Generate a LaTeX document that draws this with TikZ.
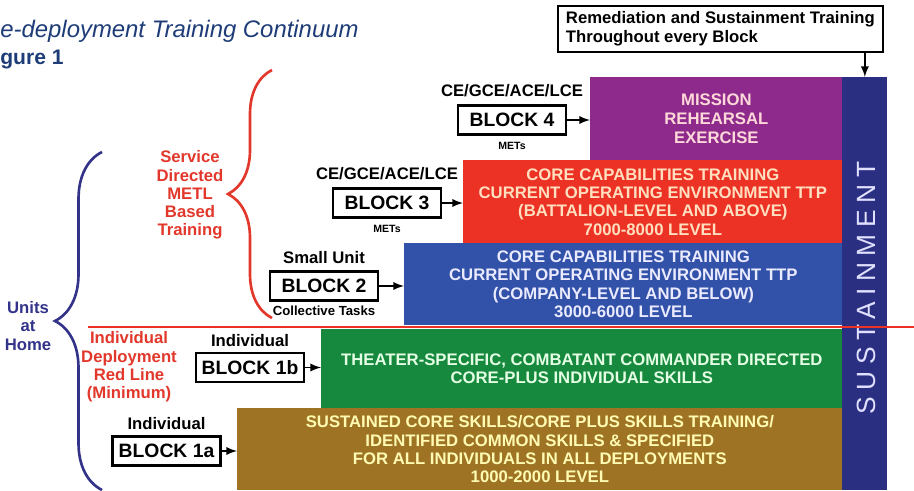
\documentclass[tikz,border=0pt]{standalone}
\usepackage{fontspec}
\setmainfont{Liberation Sans}
\newfontfamily\spacedsans[LetterSpace=25]{Liberation Sans}
\usetikzlibrary{positioning,decorations.pathreplacing}

\definecolor{titleblue}{HTML}{1D3C78}
\definecolor{metlred}{HTML}{E2372B}
\definecolor{homeblue}{HTML}{34338A}
\definecolor{mrepurple}{HTML}{8E2A8C}
\definecolor{corered}{HTML}{EC3224}
\definecolor{coreblue}{HTML}{3251A8}
\definecolor{theatergreen}{HTML}{16893E}
\definecolor{skillbrown}{HTML}{9E7424}
\definecolor{sustnavy}{HTML}{2B2F82}

\begin{document}
\begin{tikzpicture}[x = .2mm, y = -.2mm,
	band/.style = {anchor = north west, inner sep = 0, align = center, font = \bfseries\fontsize{9.5}{10.4}\selectfont},
	blockbox/.style = {draw, line width = 1.2pt, minimum width = 21.6mm, minimum height = 5.8mm, inner sep = 0, font = \bfseries\fontsize{11}{13}\selectfont},
	tag/.style = {inner sep = 0, font = \bfseries\fontsize{9.5}{11}\selectfont},
	smalltag/.style = {inner sep = 0, font = \bfseries\fontsize{6}{7}\selectfont},
	side/.style = {inner sep = 0, align = center, font = \bfseries\fontsize{9.5}{10.4}\selectfont},
	feed/.style = {-latex, line width = 1.1pt},
	curly/.style = {decorate, decoration = {brace, amplitude = #1}, line width = 1.5pt}]
	\useasboundingbox (0, 0) rectangle (914, 490);

	% title
	\node [anchor = base west, inner sep = 0, text = titleblue, font = \itshape\fontsize{13.6}{15}\selectfont] (title) at (0, 38) {e-deployment Training Continuum};
	\node [anchor = base west, inner sep = 0, text = titleblue, font = \bfseries\fontsize{12}{15}\selectfont] (fig) at (0, 65) {gure 1};

	% training blocks
	\node [band, fill = mrepurple, text = pink!60!white, minimum width = 50.4mm, minimum height = 16.6mm, font = \bfseries\fontsize{9.5}{10.8}\selectfont] (mre) at (590, 77) {MISSION\\REHEARSAL\\EXERCISE};
	\node [band, fill = corered, text = orange!25!white, minimum width = 75.8mm, minimum height = 16.6mm] (bat) at (463, 160) {CORE CAPABILITIES TRAINING\\CURRENT OPERATING ENVIRONMENT TTP\\(BATTALION-LEVEL AND ABOVE)\\7000-8000 LEVEL};
	\node [band, fill = coreblue, text = blue!8!white, minimum width = 87.6mm, minimum height = 16.4mm] (coy) at (404, 243) {CORE CAPABILITIES TRAINING\\CURRENT OPERATING ENVIRONMENT TTP\\(COMPANY-LEVEL AND BELOW)\\3000-6000 LEVEL};
	\node [band, fill = theatergreen, text = green!10!white, minimum width = 104.2mm, minimum height = 15.8mm] (thr) at (321, 329) {THEATER-SPECIFIC, COMBATANT COMMANDER DIRECTED\\CORE-PLUS INDIVIDUAL SKILLS};
	\node [band, fill = skillbrown, text = yellow!30!white, minimum width = 121mm, minimum height = 16.4mm] (ind) at (237, 408) {SUSTAINED CORE SKILLS/CORE PLUS SKILLS TRAINING/\\IDENTIFIED COMMON SKILLS \& SPECIFIED\\FOR ALL INDIVIDUALS IN ALL DEPLOYMENTS\\1000-2000 LEVEL};

	% sustainment
	\node [anchor = north west, fill = sustnavy, inner sep = 0, minimum width = 9mm, minimum height = 82.6mm] (sust) at (842, 77) {};
	\node [rotate = 90, inner sep = 0, text = blue!12!white, font = \spacedsans\fontsize{15}{15}\selectfont] (sustlbl) at (866, 288) {SUSTAINMENT};
	\node [draw, line width = 1pt, anchor = north west, minimum width = 65mm, minimum height = 8.6mm, align = left, font = \bfseries\fontsize{9.5}{10.8}\selectfont] (remed) at (557, 5) {Remediation and Sustainment Training\\Throughout every Block};
	\draw [feed] (remed.south -| sust.north) -- (sust.north);

	% red line
	\coordinate (redl) at (88, 327);
	\coordinate (redr) at (914, 327);
	\draw [corered, line width = 1.6pt] (redl) -- (redr);

	% blocks
	\node [blockbox] (b4) at (512, 120) {BLOCK 4};
	\node [tag, above = 1.4mm of b4] (b4top) {CE/GCE/ACE/LCE};
	\node [smalltag, below = 1.2mm of b4] (b4bot) {METs};
	\node [blockbox] (b3) at (387, 203) {BLOCK 3};
	\node [tag, above = 1.4mm of b3] (b3top) {CE/GCE/ACE/LCE};
	\node [smalltag, below = 1.2mm of b3] (b3bot) {METs};
	\node [blockbox] (b2) at (324, 286) {BLOCK 2};
	\node [tag, above = 1.2mm of b2] (b2top) {Small Unit};
	\node [inner sep = 0, font = \bfseries\fontsize{7.5}{9}\selectfont, below = .9mm of b2] (b2bot) {Collective Tasks};
	\node [blockbox] (b1b) at (250, 367.5) {BLOCK 1b};
	\node [tag, above = 1mm of b1b] (b1btop) {Individual};
	\node [blockbox] (b1a) at (166.5, 451) {BLOCK 1a};
	\node [tag, above = 1mm of b1a] (b1atop) {Individual};

	\draw [feed] (b4) -- (b4 -| mre.west);
	\draw [feed] (b3) -- (b3 -| bat.west);
	\draw [feed] (b2) -- (b2 -| coy.west);
	\draw [feed] (b1b) -- (b1b -| thr.west);
	\draw [feed] (b1a) -- (b1a -| ind.west);

	% braces
	\coordinate (metllo) at (272, 318);
	\coordinate (metlhi) at (272, 70);
	\draw [curly = 8.8mm, metlred] (metllo) -- (metlhi);
	\node [side, text = metlred] (metl) at (190, 195) {Service\\Directed\\METL\\Based\\Training};
	\coordinate (homelo) at (102, 490);
	\coordinate (homehi) at (102, 152);
	\draw [curly = 9.4mm, homeblue] (homelo) -- (homehi);
	\node [side, text = homeblue] (home) at (28, 326) {Units\\at\\Home};
	\node [side, text = metlred] (redline) at (129, 367) {Individual\\Deployment\\Red Line\\(Minimum)};
\end{tikzpicture}
\end{document}
